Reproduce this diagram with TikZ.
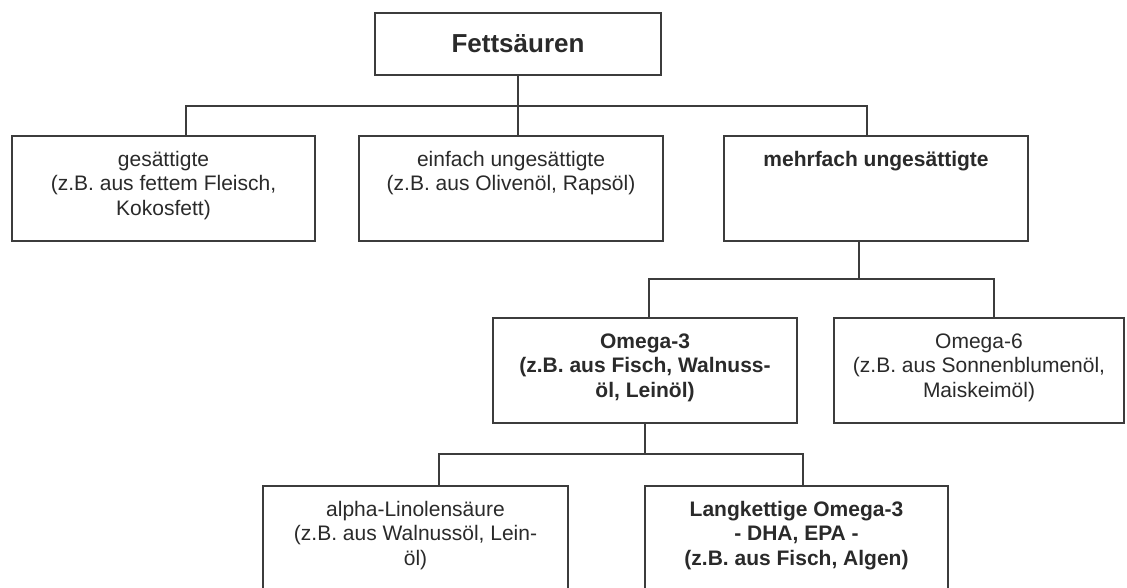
\documentclass[tikz,border=0pt]{standalone}
\usepackage{fontspec}
\setmainfont{Liberation Sans}
\definecolor{linec}{HTML}{3C3C3C}
\definecolor{textc}{HTML}{2A2A2A}
\begin{document}
\begin{tikzpicture}[x=1pt,y=-1pt,
  box/.style={draw=linec,line width=1.8pt,rectangle,inner sep=0pt,fill=white},
  conn/.style={draw=linec,line width=1.8pt},
  txt/.style={anchor=north,inner sep=0pt,align=center,text=textc,font=\fontsize{21}{24.5}\selectfont}]
\useasboundingbox (0,0) rectangle (1127,587);
\clip (0,0) rectangle (1127,587);
\fill[white] (0,0) rectangle (1127,587);
% boxes
\node[box,minimum width=286pt,minimum height=62pt,font=\fontsize{26}{30}\selectfont\bfseries,text=textc] (T) at (518,44) {Fettsäuren};
\node[box,minimum width=303pt,minimum height=105pt] (B1) at (163.5,188.5) {};
\node[box,minimum width=304pt,minimum height=105pt] (B2) at (511,188.5) {};
\node[box,minimum width=304pt,minimum height=105pt] (B3) at (876,188.5) {};
\node[box,minimum width=304pt,minimum height=105pt] (O3) at (645,370.5) {};
\node[box,minimum width=290pt,minimum height=105pt] (O6) at (979,370.5) {};
\node[box,minimum width=305pt,minimum height=154pt] (AL) at (415.5,563) {};
\node[box,minimum width=303pt,minimum height=154pt] (LK) at (796.5,563) {};
% texts
\node[txt] (tB1) at ([yshift=-15pt]B1.north) {\rule{0pt}{16pt}gesättigte\\(z.B. aus fettem Fleisch,\\Kokosfett)};
\node[txt] (tB2) at ([yshift=-15pt]B2.north) {\rule{0pt}{16pt}einfach ungesättigte\\(z.B. aus Olivenöl, Rapsöl)};
\node[txt,font=\fontsize{21}{24.5}\selectfont\bfseries] (tB3) at ([yshift=-15pt]B3.north) {\rule{0pt}{16pt}mehrfach ungesättigte};
\node[txt,font=\fontsize{21}{24.5}\selectfont\bfseries] (tO3) at ([yshift=-15pt]O3.north) {\rule{0pt}{16pt}Omega-3\\(z.B. aus Fisch, Walnuss-\\öl, Leinöl)};
\node[txt] (tO6) at ([yshift=-15pt]O6.north) {\rule{0pt}{16pt}Omega-6\\(z.B. aus Sonnenblumenöl,\\Maiskeimöl)};
\node[txt] (tAL) at ([yshift=-15pt]AL.north) {\rule{0pt}{16pt}alpha-Linolensäure\\(z.B. aus Walnussöl, Lein-\\öl)};
\node[txt,font=\fontsize{21}{24.5}\selectfont\bfseries] (tLK) at ([yshift=-15pt]LK.north) {\rule{0pt}{16pt}Langkettige Omega-3\\- DHA, EPA -\\(z.B. aus Fisch, Algen)};
% junction coordinates
\coordinate (s1) at (186,106);
\coordinate (s3) at (867,106);
\coordinate (j2) at (859,279);
\coordinate (s4) at (649,279);
\coordinate (s5) at (994,279);
\coordinate (s6) at (439,454);
\coordinate (s7) at (803,454);
% connectors
\draw[conn] (T.south) -- (T.south |- B2.north);
\draw[conn] (s1 |- B1.north) -- (s1) -- (s3) -- (s3 |- B3.north);
\draw[conn] (j2 |- B3.south) -- (j2);
\draw[conn] (s4 |- O3.north) -- (s4) -- (s5) -- (s5 |- O6.north);
\draw[conn] (O3.south) -- (O3.south |- s6);
\draw[conn] (s6 |- AL.north) -- (s6) -- (s7) -- (s7 |- LK.north);
\end{tikzpicture}
\end{document}
